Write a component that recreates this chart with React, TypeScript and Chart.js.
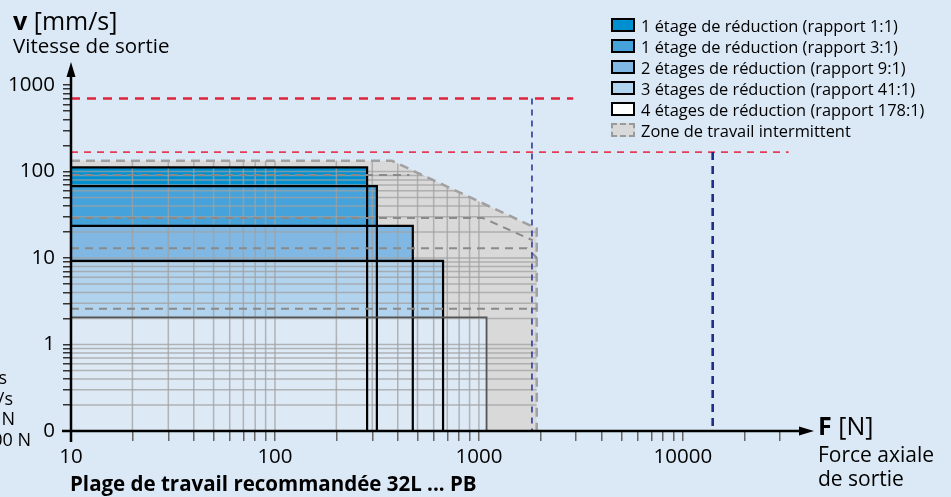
import React, { useEffect, useRef } from 'react';
import { Chart, registerables } from 'chart.js';

Chart.register(...registerables);

const W = 951;
const H = 497;
const BG = '#dbe8f5';
const FONT = '"Open Sans", "Noto Sans", sans-serif';

// Axis ranges
const xMin = 10;
const xMax = 42000;
const yMin = 0.1;
const yMax = 1850;

// Tick labels
const xMajorTicks = [10, 100, 1000, 10000];
const xMajorLabels = ['10', '100', '1000', '10000'];
const yMajorTicks = [0.1, 1, 10, 100, 1000];
const yMajorLabels = ['0', '1', '10', '100', '1000'];
const minorSteps = [1, 2, 3, 4, 5, 6, 7, 8, 9];

// Reduction stages (max force N, max speed mm/s)
const stageLabels = [
  '1 étage de réduction (rapport 1:1)',
  '1 étage de réduction (rapport 3:1)',
  '2 étages de réduction (rapport 9:1)',
  '3 étages de réduction (rapport 41:1)',
  '4 étages de réduction (rapport 178:1)',
];
const stageMaxForce = [283, 316, 474, 667, 1090];
const stageMaxSpeed = [112, 68, 23.6, 9.3, 2.06];
const stageFill = ['#0090d0', '#45a2db', '#80b8e3', '#b2d3ee', '#dde9f5'];
const stageLegendFill = ['#0090d0', '#45a2db', '#80b8e3', '#b2d3ee', '#ffffff'];
const stageBorder = ['#000000', '#000000', '#000000', '#000000', '#555555'];

// Intermittent zone outline
const intermittentLabel = 'Zone de travail intermittent';
const intermittentForce = [10, 375, 1920, 1920];
const intermittentSpeed = [133, 133, 22, 0.1];

// Intermittent limits per stage (dashed)
const interm1Force = [10, 457];
const interm1Speed = [91, 91];
const interm2Force = [10, 1045, 1840];
const interm2Speed = [29, 29, 16];
const interm3Force = [10, 1720, 1930];
const interm3Speed = [13, 13, 10];
const interm4Force = [10, 1920];
const interm4Speed = [2.6, 2.6];

// Maximum speed lines (red) and maximum force lines (blue)
const vMaxSpeed = [700, 168];
const vMaxEndForce = [2900, 33000];
const fMaxForce = [1820, 14000];
const fMaxTopSpeed = [700, 168];

// Clipped side notes (partially outside the picture)
const sideNotes = ['v max = 700 mm/s', 'v max = 170 mm/s', 'F max = 1800 N', 'F max = 14000 N'];

const buildTicks = (majors: number[], max: number) => {
  const out: number[] = [];
  majors.forEach((d) => {
    minorSteps.forEach((m) => {
      const v = Number((d * m).toPrecision(6));
      if (v <= max) out.push(v);
    });
  });
  return out;
};
const xTickValues = buildTicks(xMajorTicks, xMax).filter((v) => v <= 30000);
const yTickValues = buildTicks(yMajorTicks, yMax).filter((v) => v <= 1000);

const labelFor = (v: number, majors: number[], labels: string[]) => {
  const i = majors.findIndex((m) => Math.abs(m - v) / m < 1e-6);
  return i >= 0 ? labels[i] : '';
};

const pts = (fs: number[], vs: number[]) => fs.map((f, i) => ({ x: f, y: vs[i] }));

const gridPlugin = {
  id: 'clippedGrid',
  beforeDatasetsDraw(chart: any) {
    const { ctx } = chart;
    const xs = chart.scales.x;
    const ys = chart.scales.y;
    ctx.save();
    ctx.beginPath();
    ctx.moveTo(xs.getPixelForValue(xMin), ys.getPixelForValue(yMin));
    intermittentForce.forEach((f, i) => {
      ctx.lineTo(xs.getPixelForValue(f), ys.getPixelForValue(intermittentSpeed[i]));
    });
    ctx.closePath();
    ctx.clip();
    ctx.strokeStyle = 'rgba(160,160,160,0.75)';
    ctx.lineWidth = 1.5;
    const top = ys.getPixelForValue(yMax);
    const bottom = ys.getPixelForValue(yMin);
    xTickValues.forEach((v) => {
      const px = xs.getPixelForValue(v);
      ctx.beginPath();
      ctx.moveTo(px, bottom);
      ctx.lineTo(px, top);
      ctx.stroke();
    });
    const left = xs.getPixelForValue(xMin);
    const right = xs.getPixelForValue(xMax);
    yTickValues.forEach((v) => {
      const py = ys.getPixelForValue(v);
      ctx.beginPath();
      ctx.moveTo(left, py);
      ctx.lineTo(right, py);
      ctx.stroke();
    });
    ctx.restore();
  },
};

const axesPlugin = {
  id: 'arrowAxes',
  afterDraw(chart: any) {
    const { ctx, chartArea: a } = chart;
    ctx.save();
    ctx.strokeStyle = '#000';
    ctx.fillStyle = '#000';
    ctx.lineWidth = 2.5;
    ctx.beginPath();
    ctx.moveTo(a.left - 9, a.bottom);
    ctx.lineTo(a.right - 6, a.bottom);
    ctx.stroke();
    ctx.beginPath();
    ctx.moveTo(a.right + 4, a.bottom);
    ctx.lineTo(a.right - 11, a.bottom - 4.5);
    ctx.lineTo(a.right - 11, a.bottom + 4.5);
    ctx.closePath();
    ctx.fill();
    ctx.beginPath();
    ctx.moveTo(a.left, a.bottom + 11);
    ctx.lineTo(a.left, a.top + 8);
    ctx.stroke();
    ctx.beginPath();
    ctx.moveTo(a.left, a.top);
    ctx.lineTo(a.left - 4.5, a.top + 15);
    ctx.lineTo(a.left + 4.5, a.top + 15);
    ctx.closePath();
    ctx.fill();
    ctx.restore();
  },
};

export default function App() {
  const ref = useRef<HTMLCanvasElement>(null);

  useEffect(() => {
    const canvas = ref.current;
    if (!canvas) return;

    const datasets: any[] = [];
    // intermittent zone (bottom layer)
    datasets.push({
      label: intermittentLabel,
      data: pts(intermittentForce, intermittentSpeed),
      showLine: true,
      fill: 'start',
      backgroundColor: '#d9d9d9',
      borderColor: '#a0a0a0',
      borderWidth: 2.5,
      borderDash: [9, 6],
      pointRadius: 0,
      order: 20,
    });
    // stage boxes
    stageLabels.forEach((lab, i) => {
      datasets.push({
        label: lab,
        data: pts([xMin, stageMaxForce[i], stageMaxForce[i]], [stageMaxSpeed[i], stageMaxSpeed[i], yMin]),
        showLine: true,
        fill: 'start',
        backgroundColor: stageFill[i],
        borderColor: stageBorder[i],
        borderWidth: i === 4 ? 1.8 : 2.2,
        pointRadius: 0,
        order: 15 - i,
      });
    });
    // intermittent limits
    [
      [interm1Force, interm1Speed],
      [interm2Force, interm2Speed],
      [interm3Force, interm3Speed],
      [interm4Force, interm4Speed],
    ].forEach(([fs, vs], i) => {
      datasets.push({
        label: 'interm' + i,
        data: pts(fs, vs),
        showLine: true,
        fill: false,
        borderColor: '#8a8a8a',
        borderWidth: 2,
        borderDash: [8, 6],
        pointRadius: 0,
        order: 5,
      });
    });
    // max speed lines
    vMaxSpeed.forEach((v, i) => {
      datasets.push({
        label: 'vmax' + i,
        data: pts([xMin, vMaxEndForce[i]], [v, v]),
        showLine: true,
        fill: false,
        borderColor: i === 0 ? '#e0223c' : '#e63c55',
        borderWidth: i === 0 ? 2.5 : 1.6,
        borderDash: i === 0 ? [9, 7] : [7, 6],
        pointRadius: 0,
        order: 2,
      });
    });
    // max force lines
    fMaxForce.forEach((f, i) => {
      datasets.push({
        label: 'fmax' + i,
        data: pts([f, f], [fMaxTopSpeed[i], yMin]),
        showLine: true,
        fill: false,
        borderColor: i === 0 ? '#2c3c9c' : '#1f2d8a',
        borderWidth: i === 0 ? 1.6 : 2.6,
        borderDash: i === 0 ? [6, 5] : [8, 6],
        pointRadius: 0,
        order: 1,
      });
    });

    const chart = new Chart(canvas, {
      type: 'scatter',
      data: { datasets },
      options: {
        responsive: false,
        animation: false,
        events: [],
        layout: { padding: { top: 62, right: 141, left: 0, bottom: 0 } },
        plugins: {
          legend: { display: false },
          tooltip: { enabled: false },
          filler: { drawTime: 'beforeDatasetsDraw' },
        } as any,
        scales: {
          x: {
            type: 'logarithmic',
            min: xMin,
            max: xMax,
            position: 'bottom',
            afterBuildTicks: (s: any) => {
              s.ticks = xTickValues.map((v) => ({ value: v }));
            },
            afterFit: (s: any) => {
              s.height = 66;
            },
            grid: { drawOnChartArea: false, drawTicks: true, tickLength: 10, color: '#666', lineWidth: 1.5 },
            border: { display: false },
            ticks: {
              autoSkip: false,
              maxRotation: 0,
              padding: 4,
              color: '#000',
              font: { family: FONT, size: 20.5 },
              callback: (v: any) => labelFor(Number(v), xMajorTicks, xMajorLabels),
            },
          },
          y: {
            type: 'logarithmic',
            min: yMin,
            max: yMax,
            position: 'left',
            afterBuildTicks: (s: any) => {
              s.ticks = yTickValues.map((v) => ({ value: v }));
            },
            afterFit: (s: any) => {
              s.width = 71;
            },
            grid: { drawOnChartArea: false, drawTicks: true, tickLength: 8, color: '#333', lineWidth: 1.5 },
            border: { display: false },
            ticks: {
              autoSkip: false,
              padding: 8,
              color: '#000',
              font: { family: FONT, size: 20.5 },
              callback: (v: any) => labelFor(Number(v), yMajorTicks, yMajorLabels),
            },
          },
        } as any,
      },
      plugins: [gridPlugin, axesPlugin],
    } as any);

    return () => chart.destroy();
  }, []);

  const abs = (extra: React.CSSProperties): React.CSSProperties => ({
    position: 'absolute',
    whiteSpace: 'nowrap',
    ...extra,
  });

  const legendRows = [...stageLabels, intermittentLabel];

  return (
    <div
      style={{
        position: 'fixed',
        left: 0,
        top: 0,
        width: W,
        height: H,
        background: BG,
        overflow: 'hidden',
        fontFamily: FONT,
        color: '#000',
      }}
    >
      <canvas ref={ref} width={W} height={H} style={{ position: 'absolute', left: 0, top: 0, width: W, height: H }} />

      <div style={abs({ left: 13, top: 5, fontSize: 25, lineHeight: '30px' })}>
        <b>v</b> [mm/s]
      </div>
      <div style={abs({ left: 13, top: 33, fontSize: 20.5, lineHeight: '24px' })}>Vitesse de sortie</div>

      <div style={abs({ left: 818, top: 410, fontSize: 25, lineHeight: '30px' })}>
        <b>F</b> [N]
      </div>
      <div style={abs({ left: 818, top: 442, fontSize: 21, lineHeight: '24px' })}>Force axiale</div>
      <div style={abs({ left: 818, top: 466, fontSize: 21, lineHeight: '24px' })}>de sortie</div>

      <div style={abs({ left: 70, top: 471, fontSize: 20.5, lineHeight: '24px', fontWeight: 700 })}>
        Plage de travail recommandée 32L ... PB
      </div>

      {sideNotes.map((t, i) => (
        <div
          key={t}
          style={abs({
            right: W - [7, 13, 15, 31][i],
            top: 366 + i * 20.5,
            fontSize: 18,
            lineHeight: '22px',
          })}
        >
          {t}
        </div>
      ))}

      {legendRows.map((t, i) => {
        const isZone = i === legendRows.length - 1;
        return (
          <div
            key={t}
            style={abs({
              left: 611,
              top: 15 + i * 21,
              height: 20,
              display: 'flex',
              alignItems: 'center',
              fontSize: 16.4,
            })}
          >
            <span
              style={{
                display: 'inline-block',
                boxSizing: 'border-box',
                width: 24,
                height: 14,
                background: isZone ? '#d9d9d9' : stageLegendFill[i],
                border: isZone ? '2px dashed #9a9a9a' : '2px solid #000',
                marginRight: 6,
              }}
            />
            <span>{t}</span>
          </div>
        );
      })}
    </div>
  );
}
